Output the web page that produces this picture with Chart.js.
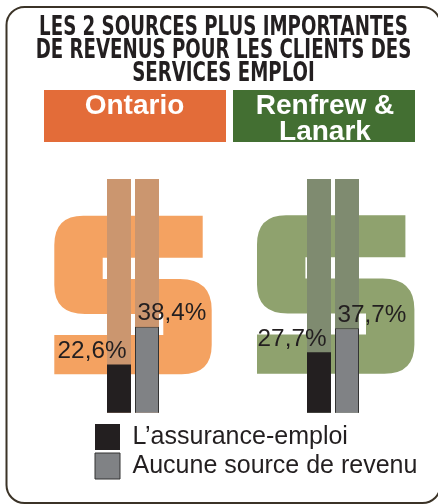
<!DOCTYPE html>
<html lang="fr">
<head>
<meta charset="utf-8">
<style>html,body{margin:0;padding:0;background:#fff}canvas{display:block}</style>
<script src="https://cdn.jsdelivr.net/npm/chart.js@4"></script>
</head>
<body>
<canvas id="c" width="438" height="504"></canvas>
<script>
const titleLines = ['LES 2 SOURCES PLUS IMPORTANTES', 'DE REVENUS POUR LES CLIENTS DES', 'SERVICES EMPLOI'];
const categories = ['Ontario', 'Renfrew & Lanark'];
const assuranceEmploi = [22.6, 27.7];
const aucuneSource = [38.4, 37.7];
const fullScale = [100, 100];
const seriesNames = ['L’assurance-emploi', 'Aucune source de revenu'];
const headerLines = [['Ontario'], ['Renfrew &', 'Lanark']];
const regionColors = ['#E36C39', '#436F32'];
const symbolColors = ['#F4A261', '#8FA26E'];
const trackColors = ['#CB966F', '#7F8B70'];

const fmt = v => v.toFixed(1).replace('.', ',') + '%';

const decor = {
  id: 'decor',
  beforeDraw(chart) {
    const c = chart.ctx;
    c.save();
    c.fillStyle = '#fff';
    c.fillRect(0, 0, 438, 504);
    c.strokeStyle = '#3B3327';
    c.lineWidth = 2;
    c.beginPath();
    c.roundRect(6.5, 7, 434, 496, 18);
    c.stroke();
    const boxes = [44, 233];
    const centers = [134.5, 325];
    c.textAlign = 'center';
    c.textBaseline = 'alphabetic';
    c.font = 'bold 28px "Liberation Sans", Arial, sans-serif';
    boxes.forEach((x, i) => {
      c.fillStyle = regionColors[i];
      c.fillRect(x, 90, 182, 52);
      c.fillStyle = '#fff';
      headerLines[i].forEach((t, k) => c.fillText(t, centers[i], 113.5 + k * 26));
    });
    c.restore();
  },
  beforeDatasetsDraw(chart) {
    const c = chart.ctx;
    [0, 202.7].forEach((dx, i) => {
      c.save();
      c.translate(dx, i ? -0.5 : 0);
      c.fillStyle = symbolColors[i];
      c.beginPath();
      c.moveTo(202.7, 215.7);
      c.lineTo(202.7, 257.7);
      c.lineTo(102.7, 257.7);
      c.lineTo(102.7, 279);
      c.lineTo(180, 279);
      c.quadraticCurveTo(211.7, 279, 211.7, 310);
      c.lineTo(211.7, 345);
      c.quadraticCurveTo(211.7, 374.3, 181.7, 374.3);
      c.lineTo(54.3, 374.3);
      c.lineTo(54.3, 335);
      c.lineTo(163.3, 335);
      c.lineTo(163.3, 314);
      c.lineTo(85, 314);
      c.quadraticCurveTo(54.3, 314, 54.3, 285);
      c.lineTo(54.3, 245);
      c.quadraticCurveTo(54.3, 215.7, 83.3, 215.7);
      c.closePath();
      c.fill();
      c.restore();
    });
  },
  afterDatasetsDraw(chart) {
    const c = chart.ctx;
    c.save();
    c.fillStyle = '#231F20';
    c.font = '24.3px "Liberation Sans", Arial, sans-serif';
    c.textBaseline = 'middle';
    [2, 3].forEach((ds, s) => {
      const vals = chart.data.datasets[ds].data;
      chart.getDatasetMeta(ds).data.forEach((bar, j) => {
        const half = bar.width / 2;
        c.textAlign = s === 0 ? 'right' : 'left';
        const x = s === 0 ? bar.x + half - 4.5 : bar.x - half + 2.5;
        c.fillText(fmt(vals[j]), x, bar.y - 13);
      });
    });
    c.restore();
  },
  afterLayout(chart) {
    const tb = chart.titleBlock;
    tb.left = 223.5 - 400;
    tb.right = 223.5 + 400;
    if (!tb._squeezed) {
      tb._squeezed = true;
      const drawTitle = tb.draw;
      tb.draw = function () {
        const c = this.ctx;
        c.save();
        c.translate(223.5, 0);
        c.scale(0.7, 1);
        c.translate(-223.5, 0);
        drawTitle.call(this);
        c.restore();
      };
    }
    chart.legend.left = 92;
    chart.legend.top = 421;
    chart.legend.right = 438;
    chart.legend.bottom = 504;
  }
};

new Chart(document.getElementById('c'), {
  type: 'bar',
  data: {
    labels: categories,
    datasets: [
      { label: 'Échelle', data: fullScale, stack: 'a', order: 3, backgroundColor: trackColors },
      { label: 'Échelle', data: fullScale, stack: 'b', order: 3, backgroundColor: trackColors },
      { label: seriesNames[0], data: assuranceEmploi, stack: 'a', order: 1, backgroundColor: '#231F20' },
      { label: seriesNames[1], data: aucuneSource, stack: 'b', order: 1, backgroundColor: '#808285', borderColor: '#333333', borderWidth: 1 }
    ]
  },
  options: {
    responsive: false,
    animation: false,
    categoryPercentage: 0.28,
    barPercentage: 24 / 28,
    layout: { padding: { left: 33, right: 5, top: 0, bottom: 91.3 } },
    scales: {
      x: { type: 'category', offset: true, display: false },
      y: { type: 'linear', min: 2.5, max: 100, stacked: false, display: false }
    },
    plugins: {
      tooltip: { enabled: false },
      title: {
        display: true,
        text: titleLines,
        color: '#231F20',
        font: { family: '"DejaVu Sans", sans-serif', weight: 'bold', size: 26, lineHeight: 0.885 },
        padding: { top: 17, bottom: 93 }
      },
      legend: {
        display: true,
        position: 'chartArea',
        align: 'start',
        labels: {
          boxWidth: 25,
          boxHeight: 26,
          padding: 3,
          color: '#231F20',
          font: { family: '"Liberation Sans", Arial, sans-serif', size: 25 },
          filter: item => item.text !== 'Échelle'
        }
      }
    }
  },
  plugins: [decor]
});
</script>
</body>
</html>
